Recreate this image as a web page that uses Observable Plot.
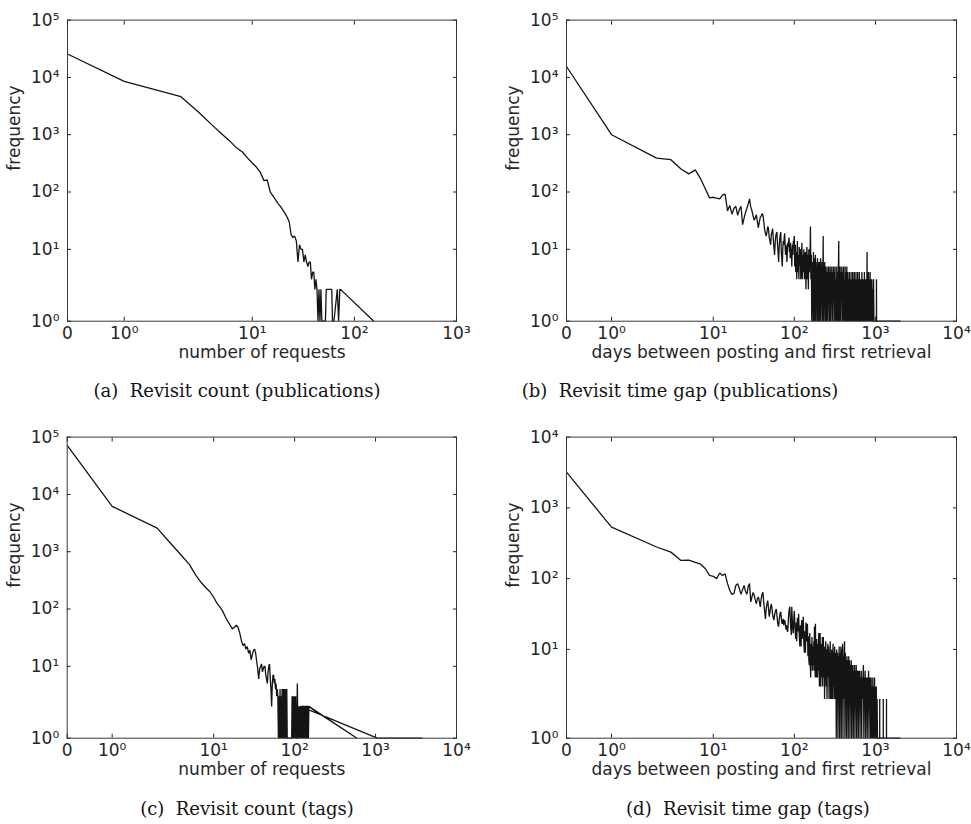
<!DOCTYPE html>
<html><head><meta charset="utf-8">
<script src="https://cdn.jsdelivr.net/npm/d3@7"></script>
<script src="https://cdn.jsdelivr.net/npm/@observablehq/plot@0.6"></script>
<style>
body{margin:0;background:#fff;}
#wrap{position:relative;width:971px;height:824px;overflow:hidden;background:#fff;}
.panel{position:absolute;}
#caps{position:absolute;left:0;top:0;pointer-events:none;}
</style></head><body><div id="wrap"></div>
<script>
// ---- data (x = count or days, y = frequency) ----
const countPublications = [[0,25600],[1,8500],[2,4600],[3,2450],[4,1500],[5,1040],[6,780],[7,590],[8,500],[9,390],[10,320],[11,270],[12,220],[13,158],[14,162],[15,100],[16,85],[17,72],[18,62],[19,55],[20,48],[21,42],[22,36],[23,30],[24,18],[25,16],[26,17],[27,14],[28,6],[29,12],[30,10],[31,10],[32,6],[33,8],[34,6],[35,5],[36,6],[37,6],[38,3],[39,4],[40,4],[41,2],[42,3],[43,2],[44,1],[45,2],[46,1],[47,2],[48,1],[50,1],[52,1],[53,2],[55,2],[57,2],[59,2],[60,2],[61,1],[63,1],[68,2],[70,1],[72,2],[73,2],[155,1]];

const gapPublications = [[0,15500],[1,1000],[2,390],[3,367],[4,252],[5,207],[6,243],[7,169],[8,113],[9,79],[10,81],[11,78],[12,76],[13,88],[14,92],[15,47],[16,58],[17,41],[18,52],[19,56],[20,39],[21,50],[22,56],[23,27],[24,35],[25,44],[26,52],[27,62],[28,76],[29,55],[30,47],[31,38],[32,32],[33,36],[34,40],[35,30],[36,24],[37,30],[38,36],[39,38],[40,42],[41,40],[42,30],[43,22],[44,19],[45,17],[46,20],[47,25],[48,23],[49,16],[50,14],[51,12],[52,18],[53,20],[54,23],[55,15],[56,11],[57,8],[58,13],[59,17],[60,19],[61,20],[62,12],[63,9],[64,6],[65,11],[66,15],[67,18],[68,20],[69,9],[70,7],[71,5],[72,10],[73,14],[74,12],[75,16],[76,19],[77,11],[78,8],[79,12],[80,10],[81,6],[82,9],[83,13],[84,11],[85,14],[86,16],[87,9],[88,11],[89,7],[90,13],[91,8],[92,10],[93,5],[94,9],[95,12],[96,8],[97,14],[98,11],[99,15],[100,17],[101,5],[103,12],[104,4],[106,9],[107,3],[109,14],[110,4],[112,8],[114,3],[115,11],[117,5],[119,10],[120,3],[122,7],[124,13],[125,3],[127,8],[129,4],[131,10],[133,3],[135,7],[137,9],[139,2],[141,6],[143,11],[145,3],[147,8],[149,2],[151,10],[153,4],[156,7],[158,25],[160,3],[162,8],[164,1],[166,6],[167,2],[169,5],[171,1],[172,9],[174,3],[176,7],[177,1],[179,6],[181,2],[182,8],[184,1],[186,5],[188,2],[190,6],[192,1],[193,7],[195,3],[197,6],[199,1],[201,5],[203,2],[205,6],[207,1],[209,5],[211,7],[213,1],[216,5],[218,2],[220,6],[223,1],[225,4],[227,17],[229,1],[232,5],[234,2],[237,6],[239,1],[242,5],[245,1],[247,4],[250,1],[253,5],[256,1],[259,4],[262,2],[265,5],[268,1],[271,4],[274,1],[277,5],[280,1],[283,4],[287,2],[290,5],[293,1],[297,4],[300,1],[304,5],[307,2],[311,4],[315,1],[318,5],[322,1],[326,3],[330,1],[334,5],[338,1],[342,4],[346,1],[350,5],[353,14],[355,1],[359,4],[363,1],[367,5],[372,1],[376,4],[381,2],[385,5],[390,1],[394,4],[399,1],[404,5],[409,1],[413,3],[418,1],[423,5],[428,1],[433,4],[438,1],[444,5],[449,1],[454,4],[460,1],[465,3],[471,1],[476,4],[482,1],[488,3],[494,1],[500,4],[506,1],[512,3],[518,1],[524,4],[530,1],[537,3],[543,1],[549,4],[556,1],[563,3],[569,1],[576,4],[583,1],[590,3],[597,1],[604,4],[611,1],[619,3],[626,1],[634,4],[641,1],[649,3],[657,1],[665,3],[673,1],[681,4],[689,1],[698,3],[706,1],[715,3],[723,1],[732,4],[741,1],[750,3],[759,1],[768,3],[778,1],[789,9],[792,1],[801,3],[811,1],[820,4],[830,1],[840,3],[850,1],[860,4],[871,1],[881,3],[892,1],[903,3],[914,1],[925,2],[936,1],[948,3],[960,1],[1000,1],[1029,1],[1030,3],[1034,1],[2050,1]];

const countTags = [[0,71600],[1,6200],[2,2580],[3,1350],[4,860],[5,600],[6,390],[7,290],[8,235],[9,200],[10,160],[11,125],[12,108],[13,90],[14,72],[15,60],[16,52],[17,45],[18,48],[19,52],[20,48],[21,38],[22,28],[23,23],[24,25],[25,20],[26,22],[27,17],[28,19],[29,13],[30,16],[31,19],[32,20],[33,17],[34,12],[35,9],[36,6],[37,9],[38,10],[39,11],[40,8],[41,9],[42,10],[43,10],[44,7],[45,6],[46,5],[47,8],[48,10],[49,11],[50,6],[51,4],[52,2],[53,5],[54,7],[55,7],[56,5],[57,6],[58,4],[59,5],[60,3],[61,4],[62,3],[63,1],[64,3],[65,1],[66,4],[67,1],[68,3],[69,1],[70,4],[71,1],[72,4],[73,1],[74,4],[75,1],[76,4],[77,1],[78,4],[79,1],[80,4],[81,1],[82,1],[84,1],[86,1],[88,1],[90,1],[92,1],[93,3],[94,1],[95,3],[96,1],[97,3],[98,1],[99,3],[100,1],[101,3],[102,1],[103,3],[104,1],[106,1],[108,5],[110,1],[112,2],[113,1],[114,2],[115,1],[116,2],[117,1],[118,2],[119,1],[120,2],[121,1],[122,2],[123,1],[124,2],[125,1],[126,2],[127,1],[128,2],[130,1],[131,2],[133,1],[134,2],[136,1],[137,2],[139,1],[140,2],[142,1],[143,2],[145,1],[146,2],[148,1],[150,2],[590,1],[148,2],[118,2],[1050,1],[3800,1]];

const gapTags = [[0,3200],[1,535],[2,280],[3,237],[4,181],[5,182],[6,170],[7,160],[8,138],[9,111],[10,108],[11,100],[12,120],[13,111],[14,117],[15,85],[16,68],[17,60],[18,62],[19,80],[20,85],[21,72],[22,60],[23,70],[24,80],[25,66],[26,60],[27,78],[28,85],[29,47],[30,55],[31,64],[32,58],[33,50],[34,44],[35,52],[36,55],[37,48],[38,40],[39,52],[40,60],[41,64],[42,45],[43,35],[44,27],[45,38],[46,44],[47,49],[48,38],[49,29],[50,33],[51,40],[52,44],[53,38],[54,31],[55,28],[56,26],[57,30],[58,34],[59,36],[60,37],[61,30],[62,25],[63,22],[64,21],[65,26],[66,30],[67,33],[68,34],[69,28],[70,24],[71,23],[72,25],[73,27],[74,22],[75,25],[76,26],[77,24],[78,21],[79,19],[80,22],[81,20],[82,18],[83,18],[84,24],[85,30],[86,35],[87,38],[88,40],[89,28],[90,21],[91,18],[92,16],[93,40],[95,22],[97,17],[99,30],[100,35],[102,20],[104,14],[106,24],[107,13],[109,28],[111,18],[113,32],[115,16],[117,11],[119,22],[121,11],[123,26],[125,14],[127,20],[129,29],[131,12],[133,9],[135,18],[137,9],[139,24],[141,13],[143,20],[145,23],[147,8],[149,15],[150,15],[151,7],[153,6],[155,17],[156,8],[158,5],[159,4],[161,12],[162,6],[164,8],[165,15],[167,5],[169,11],[170,6],[172,7],[174,13],[175,5],[177,21],[179,9],[181,4],[182,23],[184,7],[186,11],[188,4],[189,14],[191,6],[193,4],[195,12],[197,5],[200,17],[202,6],[204,3],[206,10],[208,17],[210,5],[212,3],[215,12],[217,4],[219,7],[222,15],[224,3],[226,10],[228,15],[231,4],[234,11],[236,2],[239,9],[241,6],[244,13],[247,3],[250,10],[253,2],[256,7],[259,12],[262,4],[265,11],[268,2],[271,9],[274,3],[277,13],[280,2],[283,8],[286,2],[289,10],[293,5],[296,2],[300,12],[303,3],[307,9],[310,2],[314,11],[318,4],[321,2],[325,9],[329,1],[333,10],[337,3],[341,9],[345,1],[349,8],[353,2],[357,11],[362,1],[366,9],[370,3],[375,11],[379,1],[384,10],[388,2],[393,12],[398,1],[402,8],[407,2],[411,9],[416,13],[421,1],[426,9],[431,2],[436,7],[441,1],[446,8],[451,2],[457,7],[462,1],[468,8],[473,2],[479,7],[485,1],[491,6],[497,2],[503,7],[509,1],[515,6],[521,2],[527,6],[533,1],[540,5],[546,2],[553,6],[559,1],[566,5],[573,2],[580,6],[587,1],[594,5],[601,2],[608,5],[615,1],[623,5],[630,2],[638,5],[646,1],[654,4],[662,2],[670,5],[678,1],[686,4],[694,2],[703,4],[711,6],[720,1],[729,4],[738,2],[747,5],[756,1],[765,4],[774,2],[784,4],[793,1],[803,4],[813,2],[823,5],[833,1],[843,4],[853,2],[864,4],[874,1],[885,4],[896,1],[907,3],[918,1],[929,4],[941,1],[952,3],[964,1],[976,4],[988,1],[1000,3],[1012,1],[1025,3],[1037,1],[1050,2],[1060,1],[1129,1],[1130,2],[1131,1],[1249,1],[1250,2],[1251,1],[1369,1],[1370,2],[1371,1],[2040,1]];

const xTickValues = [0, 1, 10, 100, 1000, 10000];
const yTickValues = [1, 10, 100, 1000, 10000, 100000];
const supDigits = ["⁰","¹","²","³","⁴","⁵"];
const captions = ["(a)  Revisit count (publications)", "(b)  Revisit time gap (publications)", "(c)  Revisit count (tags)", "(d)  Revisit time gap (tags)"];
const xTitles = ["number of requests", "days between posting and first retrieval"];
const yTitle = "frequency";

// matplotlib-like symlog (linthresh 2, linscale 1, base 10)
const LT = 2, LS = 1 / (1 - 1 / 10);
const sym = v => v <= LT ? (v / LT) * LS : LS + Math.log10(v / LT);
const fmt = v => v === 0 ? "0" : "10" + supDigits[Math.round(Math.log10(v))];

const wrap = document.getElementById("wrap");

function panel({data, xMax, yMax, xLabel, left, top, width, marginLeft, marginRight}) {
  const xs = xTickValues.filter(v => v <= xMax);
  const ys = yTickValues.filter(v => v <= yMax);
  const xT = xs.map(sym), yT = ys.map(sym);
  const xLab = new Map(xs.map(v => [sym(v), fmt(v)]));
  const yLab = new Map(ys.map(v => [sym(v), fmt(v)]));
  const look = (m) => (v) => { if (m.has(v)) return m.get(v); let best = "", bd = Infinity; for (const [k, s] of m) { const d = Math.abs(k - v); if (d < bd) { bd = d; best = s; } } return best; };
  const chart = Plot.plot({
    width, height: 372,
    marginLeft, marginRight, marginTop: 19.6, marginBottom: 51.3,
    style: {fontFamily: "DejaVu Sans", fontSize: "17px", color: "#262626", background: "#fff", overflow: "visible"},
    x: {type: "linear", domain: [0, sym(xMax)]},
    y: {type: "linear", domain: [sym(1), sym(yMax)]},
    marks: [
      Plot.line(data, {x: d => sym(d[0]), y: d => sym(d[1]), stroke: "#141414", strokeWidth: 1.3, strokeLinejoin: "miter", strokeLinecap: "butt"}),
      Plot.frame({stroke: "#3a3a3a", strokeWidth: 1}),
      Plot.axisX({ticks: xT, anchor: "bottom", tickSize: -4, tickPadding: 10, tickFormat: look(xLab), label: null}),
      Plot.axisX({ticks: xT, anchor: "top", tickSize: -4, tickFormat: () => "", label: null}),
      Plot.axisY({ticks: yT, anchor: "left", tickSize: -4, tickPadding: 12, tickFormat: look(yLab), label: null}),
      Plot.axisY({ticks: yT, anchor: "right", tickSize: -4, tickFormat: () => "", label: null}),
      Plot.text([xLabel], {frameAnchor: "bottom", dy: 37, text: d => d, fill: "#262626"}),
      Plot.text([yTitle], {frameAnchor: "left", dx: -52.5, rotate: -90, text: d => d, fill: "#262626"})
    ]
  });
  const div = document.createElement("div");
  div.className = "panel";
  div.style.left = left + "px";
  div.style.top = top + "px";
  div.appendChild(chart);
  wrap.appendChild(div);
}

panel({data: countPublications, xMax: 1000, yMax: 100000, xLabel: xTitles[0], left: 0, top: 0, width: 485, marginLeft: 67, marginRight: 29});
panel({data: gapPublications, xMax: 10000, yMax: 100000, xLabel: xTitles[1], left: 485, top: 0, width: 486, marginLeft: 81, marginRight: 15});
panel({data: countTags, xMax: 10000, yMax: 100000, xLabel: xTitles[0], left: 0, top: 417, width: 485, marginLeft: 66.7, marginRight: 29});
panel({data: gapTags, xMax: 10000, yMax: 10000, xLabel: xTitles[1], left: 485, top: 417, width: 486, marginLeft: 81, marginRight: 15});

// captions
const ns = "http://www.w3.org/2000/svg";
const caps = document.createElementNS(ns, "svg");
caps.setAttribute("id", "caps");
caps.setAttribute("width", 971);
caps.setAttribute("height", 824);
const capPos = [[237, 397], [680, 397], [247, 815], [748, 815]];
captions.forEach((c, i) => {
  const t = document.createElementNS(ns, "text");
  t.setAttribute("x", capPos[i][0]);
  t.setAttribute("y", capPos[i][1]);
  t.setAttribute("text-anchor", "middle");
  t.setAttribute("style", "white-space:pre;font-family:'DejaVu Serif';font-size:18px;fill:#141414");
  t.textContent = c;
  caps.appendChild(t);
});
wrap.appendChild(caps);
</script></body></html>
